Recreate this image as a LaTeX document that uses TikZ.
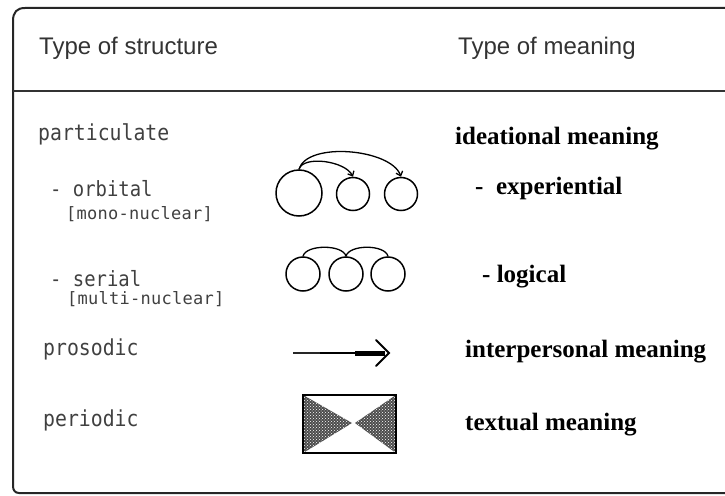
\documentclass[tikz,border=0pt]{standalone}
\usepackage{fontspec}
\setmainfont{Liberation Serif}
\newfontfamily\hdrfont{Liberation Sans}
\newfontfamily\lblfont[FakeStretch=0.9]{DejaVu Sans Mono}
\newfontfamily\brkfont[LetterSpace=1.5]{DejaVu Sans Mono}
\newfontfamily\meanfont{Liberation Serif}
\usetikzlibrary{arrows.meta,patterns}
\definecolor{hdrgray}{HTML}{333333}
\definecolor{lblgray}{HTML}{404040}
\tikzset{
  hdr/.style={anchor=base west, inner sep=0, text=hdrgray, font=\hdrfont\fontsize{24}{28}\selectfont},
  lbl/.style={anchor=base west, inner sep=0, text=lblgray, font=\lblfont\fontsize{22}{26}\selectfont},
  sublbl/.style={anchor=base west, inner sep=0, text=lblgray, font=\lblfont\fontsize{21}{25}\selectfont},
  brk/.style={anchor=base west, inner sep=0, text=lblgray, font=\brkfont\fontsize{17}{20}\selectfont},
  mean/.style={anchor=base west, inner sep=0, text=black, font=\meanfont\bfseries\fontsize{25}{29}\selectfont},
  ring/.style={circle, draw, line width=1.5pt, inner sep=0},
  link/.style={line width=1.3pt},
  arr/.style={link, -{Straight Barb[length=4pt,width=7pt,line width=1.3pt]}},
  frameline/.style={line width=2pt, draw=black!85},
}
\begin{document}
\begin{tikzpicture}[x=1pt,y=-1pt]
\useasboundingbox (0,0) rectangle (725,495);
\clip (0,0) rectangle (725,495);
% frame
\draw[frameline] (740,8) -- (25,8) .. controls (17,8) and (13,12) .. (13,21) -- (13,486) .. controls (13,490) and (15,493) .. (19,493) -- (740,493);
\draw[line width=1.8pt, draw=black!80] (13,91) -- (740,91);
% headers
\node[hdr] (h1) at (39,55) {Type of structure};
\node[hdr] (h2) at (458,55) {Type of meaning};
% left labels
\node[lbl] (l1) at (38,140) {particulate};
\node[sublbl] (l2) at (50,196) {- orbital};
\node[brk] (l2b) at (66,219) {[mono-nuclear]};
\node[sublbl] (l3) at (50,286) {- serial};
\node[brk] (l3b) at (67,304) {[multi-nuclear]};
\node[lbl] (l4) at (43,355) {prosodic};
\node[lbl] (l5) at (43,426) {periodic};
% right labels
\node[mean] (m1) at (455,144) {ideational meaning};
\node[mean] (m2) at (475,194) {-\ \ experiential};
\node[mean] (m3) at (482,282) {- logical};
\node[mean] (m4) at (465,357) {interpersonal meaning};
\node[mean] (m5) at (465,430) {textual meaning};
% orbital
\node[ring, minimum size=46pt] (big) at (299,193) {};
\node[ring, minimum size=33pt] (s1) at (353,194) {};
\node[ring, minimum size=33pt] (s2) at (401,194) {};
\draw[arr] (big.north) .. controls +(4,-14) and +(-8,-16) .. (s1.north);
\draw[arr] (big.north) .. controls +(8,-28) and +(-10,-28) .. (s2.north);
% serial
\node[ring, minimum size=34pt] (c1) at (303,274) {};
\node[ring, minimum size=34pt] (c2) at (346,274) {};
\node[ring, minimum size=34pt] (c3) at (388,274) {};
\draw[link] (c1.north) .. controls +(3,-12) and +(-3,-12) .. (c2.north);
\draw[link] (c2.north) .. controls +(3,-12) and +(-3,-12) .. (c3.north);
% prosodic arrow
\coordinate (pa) at (293,353);
\coordinate (pb) at (320,353);
\coordinate (pc) at (355,353);
\coordinate (pd) at (385,353);
\coordinate (tip) at (389,353);
\coordinate (aw1) at (376,340);
\coordinate (aw2) at (376,366);
\draw[line width=1.4pt, draw=black!85] (pa) -- (pb);
\draw[line width=2.6pt] (pb) -- (pc);
\draw[line width=5pt] (pc) -- (pd);
\draw[line width=2pt, line cap=round] (aw1) -- (tip) -- (aw2);
% periodic box
\node[minimum width=93pt, minimum height=58pt, inner sep=0] (box) at (349.5,424) {};
\coordinate (ap1) at (352,423);
\coordinate (ap2) at (355,423);
\fill[black!70] (box.north west) -- (box.south west) -- (ap1) -- cycle;
\fill[black!70] (box.north east) -- (box.south east) -- (ap2) -- cycle;
\fill[pattern=crosshatch dots, pattern color=white] (box.north west) -- (box.south west) -- (ap1) -- cycle;
\fill[pattern=crosshatch dots, pattern color=white] (box.north east) -- (box.south east) -- (ap2) -- cycle;
\draw[line width=1.8pt] (box.north west) rectangle (box.south east);
\end{tikzpicture}
\end{document}
